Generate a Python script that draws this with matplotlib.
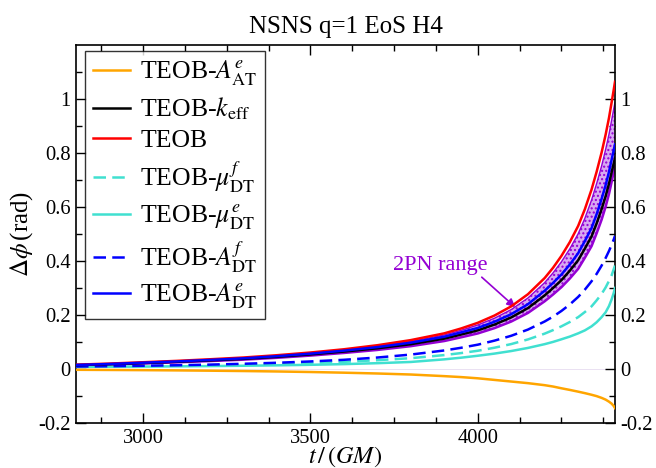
import matplotlib
matplotlib.use("Agg")
import matplotlib.pyplot as plt
from matplotlib.ticker import MultipleLocator, FixedLocator

plt.rcParams['font.family'] = ['Liberation Serif', 'DejaVu Serif']
plt.rcParams['mathtext.fontset'] = 'stix'

# time grid (t / GM)
t = [2800, 2900, 3000, 3100, 3200, 3300, 3400, 3500, 3600, 3700, 3800, 3900, 3950,
     4000, 4050, 4100, 4150, 4200, 4225, 4250, 4275, 4300, 4320, 4340, 4355,
     4370, 4382, 4392, 4400, 4406, 4410]

teob = [0.016, 0.020, 0.025, 0.030, 0.036, 0.0425, 0.051, 0.061, 0.073, 0.088, 0.107, 0.132, 0.150,
        0.171, 0.198, 0.232, 0.277, 0.337, 0.375, 0.419, 0.470, 0.530, 0.592, 0.665, 0.730,
        0.802, 0.868, 0.930, 0.988, 1.033, 1.064]
A_DT_e = [0.015, 0.0186, 0.0233, 0.028, 0.0335, 0.0395, 0.0474, 0.0567, 0.0679, 0.081, 0.0974, 0.1195, 0.1355,
          0.152, 0.175, 0.203, 0.240, 0.290, 0.319, 0.350, 0.387, 0.429, 0.474, 0.522, 0.573,
          0.630, 0.681, 0.730, 0.776, 0.810, 0.832]
k_eff = [0.0143, 0.0177, 0.0221, 0.0266, 0.0318, 0.0375, 0.045, 0.0539, 0.0645, 0.0766, 0.0918, 0.1125, 0.1275,
         0.143, 0.1645, 0.191, 0.2256, 0.2726, 0.300, 0.329, 0.364, 0.403, 0.446, 0.491, 0.539,
         0.592, 0.640, 0.686, 0.729, 0.761, 0.782]
band_hi = [0.0155, 0.0192, 0.024, 0.0288, 0.0345, 0.0407, 0.0488, 0.0583, 0.0697, 0.084, 0.102, 0.126, 0.143,
           0.163, 0.188, 0.220, 0.263, 0.320, 0.356, 0.397, 0.445, 0.501, 0.558, 0.626, 0.686,
           0.752, 0.813, 0.869, 0.922, 0.962, 0.988]
band_lo = [0.0132, 0.0163, 0.0203, 0.0245, 0.0293, 0.0345, 0.0414, 0.0496, 0.0593, 0.0705, 0.0845, 0.1035, 0.1173,
           0.1316, 0.1513, 0.1757, 0.2076, 0.2508, 0.276, 0.303, 0.335, 0.371, 0.412, 0.455, 0.502,
           0.553, 0.601, 0.648, 0.693, 0.728, 0.751]
A_DT_f = [0.0091, 0.0104, 0.0119, 0.0138, 0.0162, 0.0193, 0.023, 0.0279, 0.034, 0.0424, 0.0534, 0.0686, 0.0785,
          0.090, 0.105, 0.123, 0.146, 0.176, 0.194, 0.215, 0.239, 0.267, 0.294, 0.325, 0.352,
          0.383, 0.411, 0.437, 0.460, 0.479, 0.493]
mu_DT_f = [0.0086, 0.0097, 0.0107, 0.0121, 0.0139, 0.0162, 0.0189, 0.0223, 0.0265, 0.0326, 0.040, 0.0515, 0.0589,
           0.0675, 0.0788, 0.0923, 0.1095, 0.131, 0.144, 0.158, 0.174, 0.192, 0.211, 0.232, 0.254,
           0.278, 0.302, 0.326, 0.347, 0.369, 0.383]
mu_DT_e = [0.0079, 0.0084, 0.009, 0.0098, 0.0108, 0.012, 0.0135, 0.0155, 0.018, 0.0215, 0.026, 0.0357, 0.0418,
           0.049, 0.057, 0.0665, 0.078, 0.092, 0.1003, 0.110, 0.120, 0.132, 0.143, 0.158, 0.173,
           0.192, 0.210, 0.233, 0.258, 0.281, 0.300]
A_AT_e = [-0.003, -0.0036, -0.0043, -0.0052, -0.0063, -0.0076, -0.0092, -0.0112, -0.0137, -0.0167, -0.0205, -0.0265, -0.030,
          -0.0345, -0.0405, -0.0465, -0.0525, -0.060, -0.065, -0.0715, -0.0775, -0.084, -0.0895, -0.0955, -0.1005,
          -0.107, -0.1135, -0.121, -0.1285, -0.137, -0.145]

xticks = [3000, 3500, 4000]
yticks = [-0.2, 0, 0.2, 0.4, 0.6, 0.8, 1]
ytick_labels = ['-0.2', '0', '0.2', '0.4', '0.6', '0.8', '1']

fig = plt.figure(figsize=(6.56, 4.68), dpi=100)
ax = fig.add_axes([0.1159, 0.0962, 0.8216, 0.8076])

violet = '#9400d3'
lw = 1.8
ax.axhline(0, color='#e6dcf0', lw=0.6, zorder=1)

ax.fill_between(t, band_lo, band_hi, facecolor='#d7a9f2', edgecolor=violet,
                hatch='....', linewidth=0, zorder=2)
ax.plot(t, band_hi, color=violet, lw=1.0, zorder=2)
ax.plot(t, band_lo, color=violet, lw=1.8, zorder=2)

h1, = ax.plot(t, A_AT_e, color='#ffa500', lw=lw, zorder=3)
h2, = ax.plot(t, k_eff, color='black', lw=lw, zorder=4)
h3, = ax.plot(t, teob, color='#ff0000', lw=lw, zorder=4)
h4, = ax.plot(t, mu_DT_f, color='#40e0d0', lw=lw, ls=(0, (5, 2.5)), zorder=3)
h5, = ax.plot(t, mu_DT_e, color='#40e0d0', lw=lw, zorder=3)
h6, = ax.plot(t, A_DT_f, color='#0000ff', lw=lw, ls=(0, (5, 2.5)), zorder=3)
h7, = ax.plot(t, A_DT_e, color='#0000ff', lw=lw, zorder=4)

labels = [r'TEOB-$A^{e}_{\rm AT}$', r'TEOB-$k_{\rm eff}$', 'TEOB',
          r'TEOB-$\mu^{f}_{\rm DT}$', r'TEOB-$\mu^{e}_{\rm DT}$',
          r'TEOB-$A^{f}_{\rm DT}$', r'TEOB-$A^{e}_{\rm DT}$']
leg = ax.legend([h1, h2, h3, h4, h5, h6, h7], labels, loc='upper left',
                bbox_to_anchor=(0.0165, 0.983), fontsize=18.5, frameon=True,
                fancybox=False, edgecolor='black', handlelength=1.45,
                handletextpad=0.4, labelspacing=0.28, borderpad=0.3,
                borderaxespad=0.0)
leg.get_frame().set_linewidth(1.0)

ax.text(3889, 0.383, '2PN range', color=violet, fontsize=16,
        ha='center', va='center')
ax.annotate('', xy=(4112, 0.229), xytext=(4012, 0.340),
            arrowprops=dict(arrowstyle='-|>', color=violet, lw=1.2,
                            shrinkA=0, shrinkB=0, mutation_scale=12))

ax.set_xlim(2800, 4410)
ax.set_ylim(-0.2, 1.2)
ax.xaxis.set_major_locator(FixedLocator(xticks))
ax.xaxis.set_minor_locator(MultipleLocator(125))
ax.yaxis.set_major_locator(FixedLocator(yticks))
ax.set_yticklabels(ytick_labels)
ax.yaxis.set_minor_locator(FixedLocator([-0.1, 0.1, 0.3, 0.5, 0.7, 0.9, 1.1]))
ax.tick_params(which='both', direction='in', top=True, right=True,
               labelright=True, labelsize=14.8, width=1.0)
ax.tick_params(which='major', length=7, pad=4)
ax.tick_params(which='minor', length=4)
for s in ax.spines.values():
    s.set_linewidth(1.2)

ax.set_xlabel(r'$t\,/\,(GM)$', fontsize=17.5, labelpad=-2.5)
ax.set_ylabel(r'$\Delta\phi\,$(rad)', fontsize=18, labelpad=2)
ax.set_title('NSNS q=1 EoS H4', fontsize=18, pad=9)

fig.savefig('out.png', dpi=100)
